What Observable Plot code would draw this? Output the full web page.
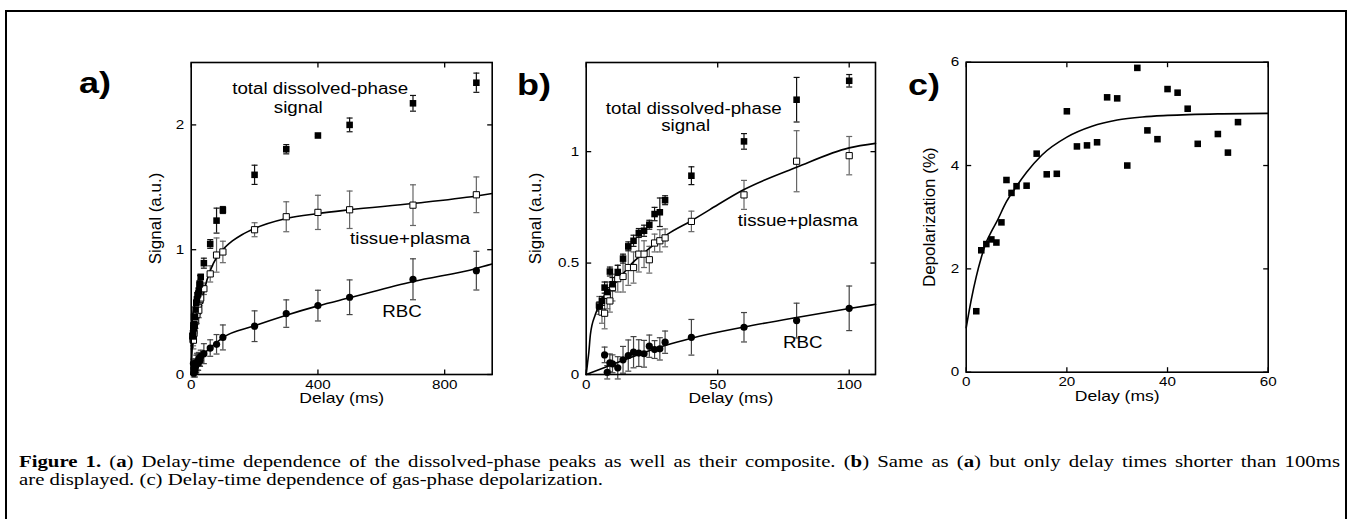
<!DOCTYPE html>
<html><head><meta charset="utf-8">
<script src="https://cdn.jsdelivr.net/npm/d3@7"></script>
<script src="https://cdn.jsdelivr.net/npm/@observablehq/plot@0.6"></script>
<style>
html,body{margin:0;padding:0;background:#fff;}
body{width:1351px;height:519px;overflow:hidden;position:relative;font-family:"Liberation Sans",Arial,sans-serif;}
#border{position:absolute;left:5px;top:10px;width:1338px;height:600px;border:2px solid #000;border-bottom:none;}
.panel{position:absolute;}
.plabel{position:absolute;font:bold 30px "Liberation Sans",Arial,sans-serif;line-height:30px;transform:scaleX(1.2);transform-origin:0 0;}
#caption{position:absolute;left:19px;top:453px;font:16.5px "Liberation Serif","Times New Roman",serif;line-height:18px;color:#000;transform-origin:0 0;white-space:nowrap;}
#caption .l1{text-align:justify;text-align-last:justify;white-space:normal;}
</style></head>
<body>
<div id="border"></div>
<div class="plabel" style="left:79px;top:68px">a)</div>
<div class="plabel" style="left:517px;top:70px">b)</div>
<div class="plabel" style="left:908px;top:70px">c)</div>
<div class="panel" id="pa" style="left:100px;top:40px"></div>
<div class="panel" id="pb" style="left:500px;top:40px"></div>
<div class="panel" id="pc" style="left:880px;top:40px"></div>
<div id="caption"><div class="l1"><b>Figure 1.</b> (<b>a</b>) Delay-time dependence of the dissolved-phase peaks as well as their composite. (<b>b</b>) Same as (<b>a</b>) but only delay times shorter than 100ms</div><div><span id="l2">are displayed. (c) Delay-time dependence of gas-phase depolarization.</span></div></div>
<script>
// ---- data: dissolved-phase signals (panels a, b) ----
const delay = [5,6,7,8,9,10,12,14,16,18,20,22,24,26,28,30,40,60,80,100,200,300,400,500,700,900];
const totalSignal = [0.305,0.33,0.39,0.37,0.462,0.405,0.46,0.52,0.575,0.60,0.635,0.645,0.672,0.72,0.728,0.782,0.892,1.046,1.233,1.318,1.60,1.805,1.915,2.0,2.173,2.338];
const totalErr = [0.02,0.02,0.025,0.02,0.02,0.03,0.03,0.02,0.02,0.025,0.02,0.025,0.02,0.03,0.064,0.02,0.04,0.035,0.1,0.028,0.077,0.037,0.01,0.055,0.063,0.077];
const tissueSignal = [0.31,0.28,0.275,0.355,0.33,0.39,0.43,0.44,0.48,0.48,0.54,0.54,0.515,0.59,0.60,0.613,0.687,0.806,0.957,0.982,1.16,1.264,1.299,1.32,1.357,1.44];
const tissueErr = [0.04,0.05,0.07,0.06,0.05,0.06,0.06,0.07,0.08,0.07,0.08,0.06,0.06,0.04,0.05,0.04,0.046,0.065,0.137,0.086,0.056,0.12,0.137,0.15,0.163,0.143];
const rbcSignal = [null,null,0.088,0.01,0.052,0.048,0.03,0.066,0.085,0.10,0.096,0.093,0.127,0.112,0.115,0.145,0.167,0.212,0.242,0.297,0.387,0.488,0.552,0.619,0.763,0.832];
const rbcErr = [null,null,0.035,0.03,0.04,0.04,0.05,0.06,0.07,0.07,0.06,0.06,0.05,0.04,0.05,0.05,0.08,0.066,0.078,0.1,0.123,0.11,0.123,0.139,0.164,0.155];

// fitted curves
const fitA_tissue_t = [0,1,3,7,13,20,35,50,70,100,130,160,200,300,400,500,700,900,950];
const fitA_tissue_y = [0,0.09,0.2,0.3,0.38,0.46,0.61,0.76,0.89,1.0,1.07,1.12,1.17,1.25,1.29,1.32,1.37,1.43,1.45];
const fitA_rbc_t = [0,20,40,60,100,200,300,400,500,700,900,950];
const fitA_rbc_y = [0,0.09,0.163,0.213,0.296,0.39,0.475,0.55,0.615,0.745,0.85,0.885];
const fitB_tissue_t = [0,0.5,1,1.6,3.5,6.7,11.8,17.5,23,31,40,47,60,80,100,110];
const fitB_tissue_y = [0,0.05,0.1,0.18,0.27,0.35,0.42,0.5,0.556,0.63,0.69,0.74,0.83,0.93,1.017,1.037];
const fitB_rbc_t = [0,10,20,30,40,60,80,100,110];
const fitB_rbc_y = [0,0.045,0.09,0.13,0.163,0.213,0.256,0.296,0.315];

// ---- data: gas-phase depolarization (panel c) ----
const depolDelay = [2,3,4,5,6,7,8,9,10,12,14,16,18,20,22,24,26,28,30,32,34,36,38,40,42,44,46,50,52,54];
const depol = [1.18,2.36,2.48,2.57,2.51,2.90,3.72,3.47,3.60,3.61,4.23,3.83,3.84,5.05,4.37,4.39,4.45,5.32,5.30,4.0,5.89,4.68,4.51,5.48,5.41,5.10,4.42,4.61,4.25,4.84];
const fitC_t = [0,1,2,3,4,5,6,8,10,12,15,20,25,30,35,40,50,60];
const fitC_y = [0.86,1.4,1.85,2.22,2.52,2.72,2.9,3.3,3.6,3.87,4.2,4.55,4.76,4.88,4.94,4.97,5.0,5.01];

// ---- ticks ----
const ticksA_x = [0,400,800], ticksA_y = [0,1,2];
const ticksB_x = [0,50,100], ticksB_y = [0,0.5,1];
const ticksC_x = [0,20,40,60], ticksC_y = [0,2,4,6];

// ---- helpers ----
const STRETCH = 1.17; // the source figure is horizontally stretched
const seg = (dx,dy)=>({draw(c){c.moveTo(0,0);c.lineTo(dx,dy);}});
const tickUp = seg(0,-5), tickDown = seg(0,5), tickRight = seg(5,0), tickLeft = seg(-5,0);
const cap = {draw(c){c.moveTo(-3,0);c.lineTo(3,0);}};
const rows = (ys, es, maxX) => delay.map((x,i)=>({x, y: ys[i], e: es[i]})).filter(d=>d.y!=null && d.x<=maxX);
const pts = (ts, ys) => ts.map((t,i)=>({x:t, y:ys[i]}));
const fmt = d3.format("~g");

function errMarks(data, color){
  return [
    Plot.ruleX(data, {x:"x", y1:d=>d.y-d.e, y2:d=>d.y+d.e, stroke:color, strokeWidth:1.2}),
    Plot.dot(data, {x:"x", y:d=>d.y+d.e, symbol:cap, stroke:color, fill:"none", strokeWidth:1.2}),
    Plot.dot(data, {x:"x", y:d=>d.y-d.e, symbol:cap, stroke:color, fill:"none", strokeWidth:1.2})
  ];
}
const fillSq = (data)=>Plot.dot(data, {x:"x", y:"y", symbol:"square", r:3.7, fill:"black", stroke:"none"});
const openSq = (data)=>Plot.dot(data, {x:"x", y:"y", symbol:"square", r:3.5, fill:"white", stroke:"black", strokeWidth:1});
const circ = (data)=>Plot.dot(data, {x:"x", y:"y", symbol:"circle", r:3.6, fill:"black", stroke:"none"});
const fit = (data)=>Plot.line(data, {x:"x", y:"y", curve:"monotone-x", stroke:"black", strokeWidth:1.6});
const note = (t, x, y)=>Plot.text([t], {x:()=>x, y:()=>y, fontSize:16, fill:"black"});

function panel(o){
  const [x0,x1] = o.xDomain, [y0,y1] = o.yDomain;
  return Plot.plot({
    width:o.width, height:o.height,
    marginLeft:o.m[0], marginRight:o.m[1], marginTop:o.m[2], marginBottom:o.m[3],
    style:{fontFamily:'"Liberation Sans", Arial, sans-serif', fontSize:"13px", color:"#000", background:"transparent", overflow:"visible"},
    x:{domain:o.xDomain}, y:{domain:o.yDomain},
    marks:[
      Plot.axisX(o.xTicks, {tickSize:0, tickPadding:5, fontSize:13, tickFormat:fmt, label:null}),
      Plot.axisY(o.yTicks, {tickSize:0, tickPadding:7, fontSize:13, tickFormat:fmt, label:null}),
      Plot.dot(o.xTicks, {x:d=>d, y:()=>y0, symbol:tickUp, stroke:"black", fill:"none", strokeWidth:1.3}),
      Plot.dot(o.xTicks, {x:d=>d, y:()=>y1, symbol:tickDown, stroke:"black", fill:"none", strokeWidth:1.3}),
      Plot.dot(o.yTicks, {x:()=>x0, y:d=>d, symbol:tickRight, stroke:"black", fill:"none", strokeWidth:1.3}),
      Plot.dot(o.yTicks, {x:()=>x1, y:d=>d, symbol:tickLeft, stroke:"black", fill:"none", strokeWidth:1.3}),
      ...o.marks,
      Plot.frame({stroke:"black", strokeWidth:1.6}),
      Plot.text([o.xLabel], {frameAnchor:"bottom", dy:24, lineAnchor:"middle", textAnchor:"middle", fontSize:15, fill:"black"}),
      Plot.text([o.yLabel], {frameAnchor:"left", dx:o.yLabelDx, rotate:-90, lineAnchor:"middle", textAnchor:"middle", fontSize:17, fill:"black"})
    ]
  });
}
function stretch(svg){
  svg.querySelectorAll("text").forEach(t=>{
    const tr = t.getAttribute("transform") || "";
    if (tr.includes("rotate")) return;
    const L = t.getComputedTextLength();
    if (L > 0) { t.setAttribute("textLength", L*STRETCH); t.setAttribute("lengthAdjust", "spacingAndGlyphs"); }
  });
}
function mount(id, svg){ document.getElementById(id).append(svg); stretch(svg); }

// Panel a
{
  const tot = rows(totalSignal, totalErr, 1e9), tis = rows(tissueSignal, tissueErr, 1e9), rbc = rows(rbcSignal, rbcErr, 1e9);
  mount("pa", panel({
    width:400, height:380, m:[90.7,8.3,22,46],
    xDomain:[0,950], yDomain:[0,2.5], xTicks:ticksA_x, yTicks:ticksA_y,
    xLabel:"Delay (ms)", yLabel:"Signal (a.u.)", yLabelDx:-36,
    marks:[
      ...errMarks(rbc, "#444"), ...errMarks(tis, "#666"), ...errMarks(tot, "#111"),
      fit(pts(fitA_tissue_t, fitA_tissue_y)), fit(pts(fitA_rbc_t, fitA_rbc_y)),
      circ(rbc), openSq(tis), fillSq(tot),
      note("total dissolved-phase", 407, 2.29), note("signal", 338, 2.14),
      note("tissue+plasma", 691, 1.088), note("RBC", 665, 0.498)
    ]
  }));
}
// Panel b
{
  const tot = rows(totalSignal, totalErr, 110), tis = rows(tissueSignal, tissueErr, 110), rbc = rows(rbcSignal, rbcErr, 110);
  mount("pb", panel({
    width:380, height:380, m:[85.7,5,22,46],
    xDomain:[0,110], yDomain:[0,1.4], xTicks:ticksB_x, yTicks:ticksB_y,
    xLabel:"Delay (ms)", yLabel:"Signal (a.u.)", yLabelDx:-51,
    marks:[
      ...errMarks(rbc, "#444"), ...errMarks(tis, "#666"), ...errMarks(tot, "#111"),
      fit(pts(fitB_tissue_t, fitB_tissue_y)), fit(pts(fitB_rbc_t, fitB_rbc_y)),
      circ(rbc), openSq(tis), fillSq(tot),
      note("total dissolved-phase", 40.9, 1.193), note("signal", 37.8, 1.117),
      note("tissue+plasma", 80.5, 0.69), note("RBC", 82.3, 0.14)
    ]
  }));
}
// Panel c
{
  const dp = depolDelay.map((x,i)=>({x, y:depol[i]}));
  mount("pc", panel({
    width:400, height:380, m:[85.7,12.3,21.7,48.3],
    xDomain:[0,60], yDomain:[0,6], xTicks:ticksC_x, yTicks:ticksC_y,
    xLabel:"Delay (ms)", yLabel:"Depolarization (%)", yLabelDx:-37,
    marks:[ fit(pts(fitC_t, fitC_y)), fillSq(dp) ]
  }));
}
// caption: horizontally stretched like the source
{
  const cap = document.getElementById("caption");
  const w2 = document.getElementById("l2").getBoundingClientRect().width;
  const k = 584 / w2;
  cap.style.width = (1321 / k) + "px";
  cap.style.transform = `scaleX(${k})`;
}
</script>
</body></html>
